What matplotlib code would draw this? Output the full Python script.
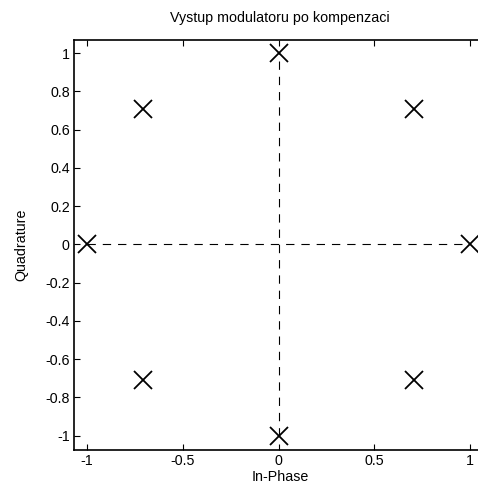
import numpy as np
import matplotlib
matplotlib.use("Agg")
import matplotlib.pyplot as plt

plt.rcParams['font.family'] = ['Liberation Sans', 'DejaVu Sans']
plt.rcParams['lines.scale_dashes'] = False

# 8-PSK constellation after compensation
in_phase = [1.0, 0.7071, 0.0, -0.7071, -1.0, -0.7071, 0.0, 0.7071]
quadrature = [0.0, 0.7071, 1.0, 0.7071, 0.0, -0.7071, -1.0, -0.7071]
x_ticks = [-1, -0.5, 0, 0.5, 1]
x_tick_labels = ['-1', '-0.5', '0', '0.5', '1']
y_ticks = [-1, -0.8, -0.6, -0.4, -0.2, 0, 0.2, 0.4, 0.6, 0.8, 1]
y_tick_labels = ['-1', '-0.8', '-0.6', '-0.4', '-0.2', '0', '0.2', '0.4', '0.6', '0.8', '1']

W, H = 478, 493
fig = plt.figure(figsize=(W / 100, H / 100), dpi=100)
ax = fig.add_axes([74 / W, 43 / H, 412 / W, 410 / H])

ax.plot([-1, 1], [0, 0], color='black', lw=0.8, dashes=(6, 5))
ax.plot([0, 0], [-1, 1], color='black', lw=0.8, dashes=(6, 5))
ax.plot(in_phase, quadrature, linestyle='none', marker='x', color='black',
        markersize=13, markeredgewidth=1.3)

ax.set_xlim(-1.068, 1.083)
ax.set_ylim(-1.075, 1.068)
ax.set_xticks(x_ticks)
ax.set_xticklabels(x_tick_labels)
ax.set_yticks(y_ticks)
ax.set_yticklabels(y_tick_labels)
ax.tick_params(direction='in', length=4, width=0.8, labelsize=10.3,
               top=True, right=False, pad=3)
for s in ax.spines.values():
    s.set_linewidth(1.2)
ax.spines['right'].set_visible(False)

ax.set_title('Vystup modulatoru po kompenzaci', fontsize=10.3, pad=13)
ax.set_xlabel('In-Phase', fontsize=10.3, labelpad=1)
ax.set_ylabel('Quadrature', fontsize=10.3, labelpad=12)

fig.savefig('out.png', dpi=100)
